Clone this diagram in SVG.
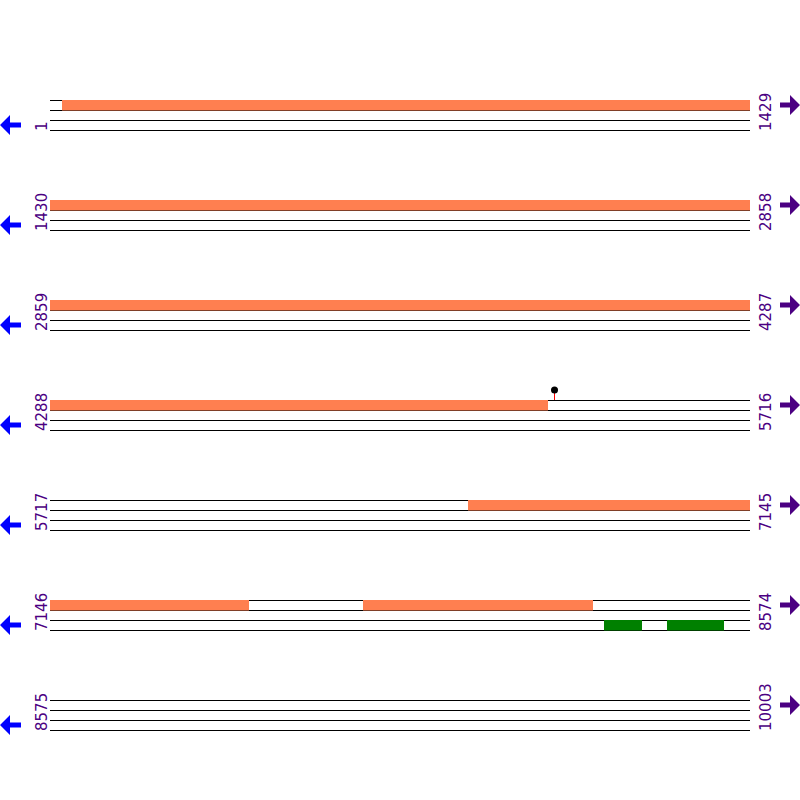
<svg xmlns="http://www.w3.org/2000/svg" width="800" height="800" viewBox="0 0 800 800">
<style>
.ln{stroke:#000;stroke-width:1;fill:none}
.f{fill:#FF7F50}
.g{fill:#008000}
.lab{font-family:"DejaVu Sans",sans-serif;font-size:15px;fill:#4B0082}
.la{fill:#0000FF}
.ra{fill:#4B0082}
</style>
<defs>
<g id="rows">
<line class="ln" x1="50" y1="0.5" x2="750" y2="0.5"/>
<line class="ln" x1="50" y1="10.5" x2="750" y2="10.5"/>
<line class="ln" x1="50" y1="20.5" x2="750" y2="20.5"/>
<line class="ln" x1="50" y1="30.5" x2="750" y2="30.5"/>
</g>
<polygon id="larrow" points="0,125 10,115 10,122.5 21,122.5 21,127.5 10,127.5 10,135"/>
<polygon id="rarrow" points="800,105 790,95 790,102.5 780,102.5 780,107.5 790,107.5 790,115"/>
</defs>
<g id="row1">
<use href="#rows" y="100"/>
<rect class="f" x="62" y="100" width="688" height="10.5"/>
<text class="lab" transform="translate(46.5,131) rotate(-90)">1</text>
<text class="lab" transform="translate(770.5,131) rotate(-90)">1429</text>
<use href="#larrow" class="la"/>
<use href="#rarrow" class="ra"/>
</g>
<g id="row2">
<use href="#rows" y="200"/>
<rect class="f" x="50" y="200" width="700" height="10.5"/>
<text class="lab" transform="translate(46.5,231) rotate(-90)">1430</text>
<text class="lab" transform="translate(770.5,231) rotate(-90)">2858</text>
<use href="#larrow" class="la" y="100"/>
<use href="#rarrow" class="ra" y="100"/>
</g>
<g id="row3">
<use href="#rows" y="300"/>
<rect class="f" x="50" y="300" width="700" height="10.5"/>
<text class="lab" transform="translate(46.5,331) rotate(-90)">2859</text>
<text class="lab" transform="translate(770.5,331) rotate(-90)">4287</text>
<use href="#larrow" class="la" y="200"/>
<use href="#rarrow" class="ra" y="200"/>
</g>
<g id="row4">
<use href="#rows" y="400"/>
<rect class="f" x="50" y="400" width="498" height="10.5"/>
<line x1="554.5" y1="390" x2="554.5" y2="400" stroke="#FF0000" stroke-width="1"/>
<circle cx="554.5" cy="390" r="3.5" fill="#000"/>
<text class="lab" transform="translate(46.5,431) rotate(-90)">4288</text>
<text class="lab" transform="translate(770.5,431) rotate(-90)">5716</text>
<use href="#larrow" class="la" y="300"/>
<use href="#rarrow" class="ra" y="300"/>
</g>
<g id="row5">
<use href="#rows" y="500"/>
<rect class="f" x="468" y="500" width="282" height="10.5"/>
<text class="lab" transform="translate(46.5,531) rotate(-90)">5717</text>
<text class="lab" transform="translate(770.5,531) rotate(-90)">7145</text>
<use href="#larrow" class="la" y="400"/>
<use href="#rarrow" class="ra" y="400"/>
</g>
<g id="row6">
<use href="#rows" y="600"/>
<rect class="f" x="50" y="600" width="199" height="10.5"/>
<rect class="f" x="363" y="600" width="230" height="10.5"/>
<rect class="g" x="604" y="620" width="38" height="10.5"/>
<rect class="g" x="667" y="620" width="57" height="10.5"/>
<text class="lab" transform="translate(46.5,631) rotate(-90)">7146</text>
<text class="lab" transform="translate(770.5,631) rotate(-90)">8574</text>
<use href="#larrow" class="la" y="500"/>
<use href="#rarrow" class="ra" y="500"/>
</g>
<g id="row7">
<use href="#rows" y="700"/>
<text class="lab" transform="translate(46.5,731) rotate(-90)">8575</text>
<text class="lab" transform="translate(770.5,731) rotate(-90)">10003</text>
<use href="#larrow" class="la" y="600"/>
<use href="#rarrow" class="ra" y="600"/>
</g>
</svg>
